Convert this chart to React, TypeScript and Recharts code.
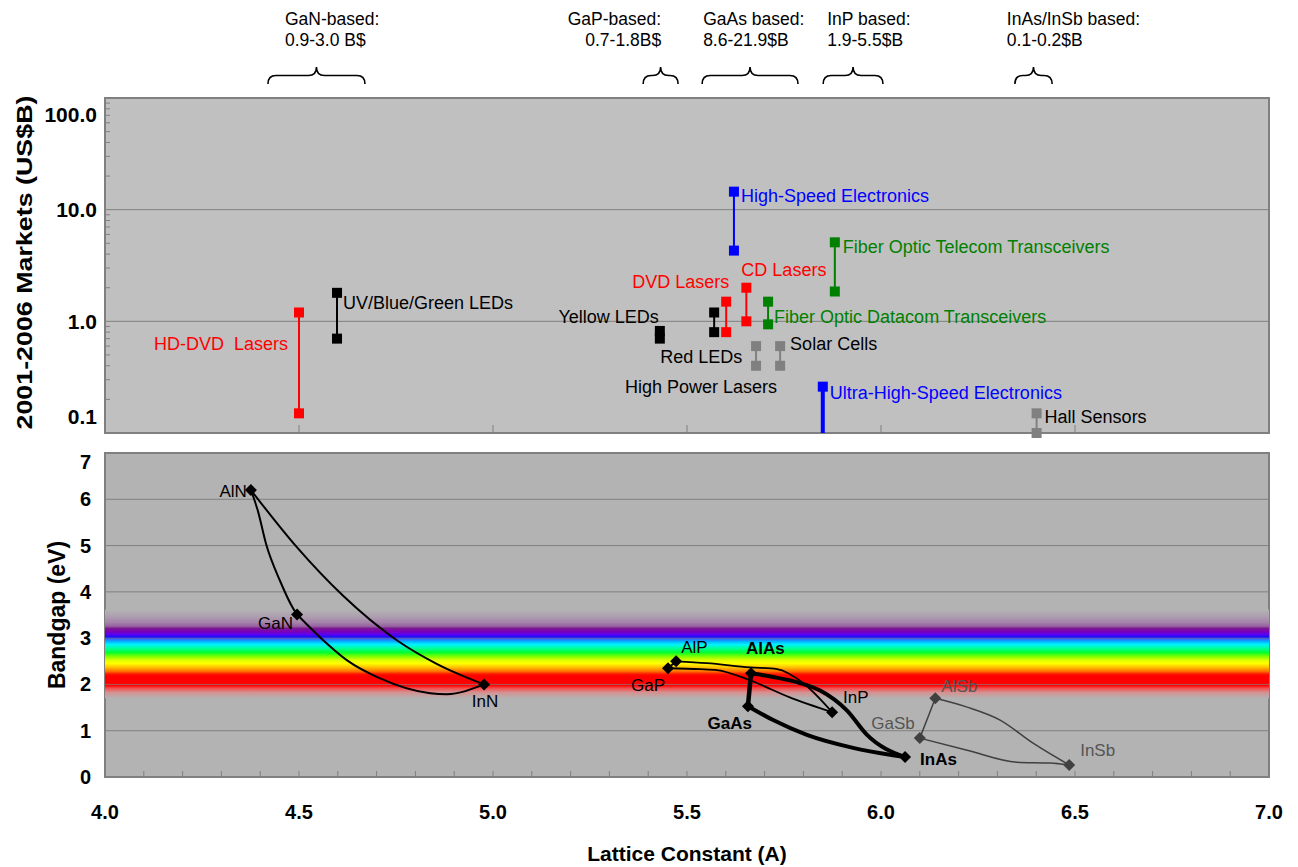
import React from 'react';
import {
  ComposedChart,
  Line,
  Scatter,
  XAxis,
  YAxis,
  ReferenceArea,
  ReferenceLine,
} from 'recharts';

const FONT = '"Liberation Sans", Arial, Helvetica, sans-serif';

// market segments shown with braces above the plot
const segmentTitles = ['GaN-based:', 'GaP-based:', 'GaAs based:', 'InP based:', 'InAs/InSb based:'];
const segmentRanges = ['0.9-3.0 B$', '0.7-1.8B$', '8.6-21.9$B', '1.9-5.5$B', '0.1-0.2$B'];
const segmentFrom = [4.42, 5.387, 5.539, 5.851, 6.345];
const segmentTo = [4.67, 5.477, 5.786, 6.005, 6.441];

// 2001-2006 market ranges (US$B) by lattice constant
const marketNames = [
  'HD-DVD  Lasers',
  'UV/Blue/Green LEDs',
  'Yellow LEDs',
  'Red LEDs',
  'DVD Lasers',
  'High-Speed Electronics',
  'CD Lasers',
  'High Power Lasers',
  'Fiber Optic Datacom Transceivers',
  'Solar Cells',
  'Ultra-High-Speed Electronics',
  'Fiber Optic Telecom Transceivers',
  'Hall Sensors',
];
const marketLattice = [4.5, 4.598, 5.43, 5.57, 5.601, 5.621, 5.653, 5.678, 5.709, 5.74, 5.85, 5.881, 6.401];
const marketLow = [0.15, 0.7, 0.7, 0.8, 0.8, 4.3, 1.0, 0.4, 0.94, 0.4, 0.1, 1.85, 0.1];
const marketHigh = [1.2, 1.8, 0.82, 1.2, 1.5, 14.5, 2.0, 0.6, 1.5, 0.6, 0.26, 5.1, 0.15];

// binary compounds: lattice constant (A) and bandgap (eV)
const compoundNames = ['AlN', 'GaN', 'InN', 'GaP', 'AlP', 'AlAs', 'GaAs', 'InP', 'InAs', 'GaSb', 'AlSb', 'InSb'];
const compoundLattice = [4.376, 4.495, 4.977, 5.451, 5.472, 5.665, 5.657, 5.874, 6.062, 6.1, 6.14, 6.485];
const compoundGap = [6.2, 3.51, 2.0, 2.35, 2.5, 2.24, 1.53, 1.4, 0.43, 0.84, 1.7, 0.26];

// ternary alloy curves
const alloyNames = [
  'AlN-GaN', 'GaN-InN', 'AlN-InN', 'GaP-AlP', 'AlP-InP', 'GaP-InP',
  'AlAs-GaAs', 'GaAs-InAs', 'AlAs-InAs', 'GaSb-AlSb', 'AlSb-InSb', 'GaSb-InSb',
];
const alloyLattice = [
  [4.376, 4.394, 4.415, 4.451, 4.485, 4.495],
  [4.495, 4.554, 4.624, 4.709, 4.838, 4.881, 4.977],
  [4.376, 4.495, 4.613, 4.753, 4.856, 4.977],
  [5.451, 5.472],
  [5.472, 5.551, 5.662, 5.732, 5.799, 5.874],
  [5.451, 5.534, 5.577, 5.662, 5.765, 5.874],
  [5.665, 5.657],
  [5.657, 5.722, 5.809, 5.928, 6.031, 6.062],
  [5.665, 5.722, 5.791, 5.843, 5.912, 5.964, 6.062],
  [6.1, 6.121, 6.14],
  [6.14, 6.222, 6.307, 6.392, 6.485],
  [6.1, 6.222, 6.35, 6.436, 6.485],
];
const alloyGap = [
  [6.2, 5.75, 5.04, 4.24, 3.64, 3.51],
  [3.51, 3.02, 2.52, 2.13, 1.81, 1.79, 2.0],
  [6.2, 4.96, 3.92, 2.95, 2.44, 2.0],
  [2.35, 2.5],
  [2.5, 2.46, 2.37, 2.33, 2.03, 1.4],
  [2.35, 2.33, 2.31, 2.09, 1.72, 1.4],
  [2.24, 1.53],
  [1.53, 1.23, 0.91, 0.63, 0.47, 0.43],
  [2.24, 2.16, 2.03, 1.87, 1.44, 0.91, 0.43],
  [0.84, 1.29, 1.7],
  [1.7, 1.51, 1.23, 0.73, 0.26],
  [0.84, 0.58, 0.32, 0.3, 0.26],
];

// ticks
const latticeMajorTicks = [4.0, 4.5, 5.0, 5.5, 6.0, 6.5, 7.0];
const latticeMinorTicks = [
  4.0, 4.1, 4.2, 4.3, 4.4, 4.5, 4.6, 4.7, 4.8, 4.9, 5.0, 5.1, 5.2, 5.3, 5.4, 5.5,
  5.6, 5.7, 5.8, 5.9, 6.0, 6.1, 6.2, 6.3, 6.4, 6.5, 6.6, 6.7, 6.8, 6.9, 7.0,
];
const marketTicks = [
  0.1, 0.2, 0.3, 0.4, 0.5, 0.6, 0.7, 0.8, 0.9,
  1, 2, 3, 4, 5, 6, 7, 8, 9,
  10, 20, 30, 40, 50, 60, 70, 80, 90, 100,
];
const marketDecades = [0.1, 1, 10, 100];
const marketDecadeLabels = ['0.1', '1.0', '10.0', '100.0'];
const gapTicks = [0, 1, 2, 3, 4, 5, 6, 7];

// ---- styling ----
// braces sit above the plot, between these two (log-scale) heights
const BRACE_BOTTOM = 133.4;
const BRACE_TOP = 189.6;
const segmentLayout = [
  { anchor: 'start', dx: 17 },
  { anchor: 'end', dx: 18 },
  { anchor: 'start', dx: 1 },
  { anchor: 'start', dx: 4 },
  { anchor: 'start', dx: -8 },
];

const RED = '#ff0000';
const BLUE = '#0000ff';
const GREEN = '#008000';
const GRAY = '#808080';

const marketStyle = [
  { color: RED, text: RED, width: 2, low: true, anchor: 'end', dx: -11, dy: 31 },
  { color: '#000', text: '#000', width: 2, low: true, anchor: 'start', dx: 6, dy: 10 },
  { color: '#000', text: '#000', width: 2, low: true, anchor: 'end', dx: -1, dy: -14 },
  { color: '#000', text: '#000', width: 2, low: true, anchor: 'start', dx: -54, dy: 44 },
  { color: RED, text: RED, width: 2, low: true, anchor: 'end', dx: 3, dy: -20 },
  { color: BLUE, text: BLUE, width: 2, low: true, anchor: 'start', dx: 7, dy: 4 },
  { color: RED, text: RED, width: 2, low: true, anchor: 'start', dx: -5, dy: -18 },
  { color: GRAY, text: '#000', width: 2, low: true, anchor: 'end', dx: 21, dy: 41 },
  { color: GREEN, text: GREEN, width: 2, low: true, anchor: 'start', dx: 6, dy: 15 },
  { color: GRAY, text: '#000', width: 2, low: true, anchor: 'start', dx: 10, dy: -2 },
  { color: BLUE, text: BLUE, width: 4, low: false, anchor: 'start', dx: 7, dy: 6 },
  { color: GREEN, text: GREEN, width: 2, low: true, anchor: 'start', dx: 8, dy: 4 },
  { color: GRAY, text: '#000', width: 2, low: true, anchor: 'start', dx: 8, dy: 3 },
];

const compoundStyle = [
  { anchor: 'end', dx: -4, dy: 1, bold: false, color: '#000' },
  { anchor: 'end', dx: -4, dy: 9, bold: false, color: '#000' },
  { anchor: 'middle', dx: 1, dy: 17, bold: false, color: '#000' },
  { anchor: 'end', dx: -3, dy: 17, bold: false, color: '#000' },
  { anchor: 'start', dx: 5, dy: -14, bold: false, color: '#000' },
  { anchor: 'start', dx: -5, dy: -25, bold: true, color: '#000' },
  { anchor: 'end', dx: 4, dy: 17, bold: true, color: '#000' },
  { anchor: 'start', dx: 11, dy: -15, bold: false, color: '#000' },
  { anchor: 'start', dx: 15, dy: 2, bold: true, color: '#000' },
  { anchor: 'end', dx: -5, dy: -15, bold: false, color: '#555555' },
  { anchor: 'start', dx: 6, dy: -12, bold: false, color: '#555555' },
  { anchor: 'start', dx: 11, dy: -15, bold: false, color: '#555555' },
];

const alloyStyle = [
  { stroke: '#000', width: 2, curve: 'monotone' },
  { stroke: '#000', width: 2, curve: 'monotone' },
  { stroke: '#000', width: 2, curve: 'monotone' },
  { stroke: '#000', width: 2, curve: 'linear' },
  { stroke: '#000', width: 1.8, curve: 'monotone' },
  { stroke: '#000', width: 1.8, curve: 'monotone' },
  { stroke: '#000', width: 4.5, curve: 'linear' },
  { stroke: '#000', width: 4, curve: 'monotone' },
  { stroke: '#000', width: 4, curve: 'monotone' },
  { stroke: '#404040', width: 1.5, curve: 'monotone' },
  { stroke: '#404040', width: 1.5, curve: 'monotone' },
  { stroke: '#404040', width: 1.5, curve: 'monotone' },
];

// visible spectrum band: [offset, colour]
const spectrumStops: [number, string][] = [
  [0, '#b3b3b3'],
  [0.079, '#ad9fb0'],
  [0.146, '#a583ab'],
  [0.19, '#96609f'],
  [0.213, '#7a1a90'],
  [0.247, '#7d00b5'],
  [0.281, '#5a00f0'],
  [0.315, '#1010ff'],
  [0.337, '#3070ff'],
  [0.36, '#00b0ff'],
  [0.393, '#00f0ff'],
  [0.438, '#00ff9a'],
  [0.483, '#00ff30'],
  [0.528, '#7dff00'],
  [0.573, '#e0ff00'],
  [0.607, '#ffff00'],
  [0.652, '#ffc000'],
  [0.697, '#ff7000'],
  [0.73, '#ff1000'],
  [0.753, '#ff0000'],
  [0.854, '#ff0000'],
  [0.888, '#f25050'],
  [0.933, '#d69090'],
  [1, '#b3b3b3'],
];

const marketSeries = marketNames.map((_, i) => [
  { x: marketLattice[i], v: marketLow[i] },
  { x: marketLattice[i], v: marketHigh[i] },
]);
const alloySeries = alloyNames.map((_, i) =>
  alloyLattice[i].map((x, j) => ({ x, y: alloyGap[i][j] }))
);
const compoundData = compoundNames.map((name, i) => ({
  name,
  idx: i,
  x: compoundLattice[i],
  y: compoundGap[i],
}));

function Brace(props: any) {
  const { x, y, width, height, idx } = props;
  const mid = x + width / 2;
  const arm = y + height * 0.5;
  const r = Math.min(8, width / 4);
  const d =
    `M${x},${y + height} Q${x},${arm} ${x + r},${arm} L${mid - r},${arm} ` +
    `Q${mid},${arm} ${mid},${y} Q${mid},${arm} ${mid + r},${arm} ` +
    `L${x + width - r},${arm} Q${x + width},${arm} ${x + width},${y + height}`;
  const lay = segmentLayout[idx];
  return (
    <g>
      <path d={d} fill="none" stroke="#000" strokeWidth={1.6} />
      <text x={x + lay.dx} y={y - 48} dy="0.35em" textAnchor={lay.anchor} fontSize={17.5} fontFamily={FONT} fill="#000">
        {segmentTitles[idx]}
      </text>
      <text x={x + lay.dx} y={y - 27} dy="0.35em" textAnchor={lay.anchor} fontSize={17.5} fontFamily={FONT} fill="#000">
        {segmentRanges[idx]}
      </text>
    </g>
  );
}

function MarketTick(props: any) {
  const { x, y, payload } = props;
  const v = payload?.value;
  const k = marketDecades.indexOf(v);
  let shift = 0;
  if (v === 100) shift = 17;
  if (v === 0.1) shift = -16;
  return (
    <g>
      {k > 0 && k < 3 ? null : <line x1={x} x2={x + 5} y1={y} y2={y} stroke={GRAY} />}
      {k >= 0 && (
        <text x={x - 8} y={y + shift} dy="0.35em" textAnchor="end" fontSize={21} fontWeight="bold" fontFamily={FONT} fill="#000">
          {marketDecadeLabels[k]}
        </text>
      )}
    </g>
  );
}

function TopLatticeTick(props: any) {
  const { x, y } = props;
  return <line x1={x} x2={x} y1={y} y2={y - 8} stroke={GRAY} />;
}

function BottomLatticeTick(props: any) {
  const { x, y, payload } = props;
  const v = payload?.value;
  const major = Math.abs(v * 2 - Math.round(v * 2)) < 1e-6;
  return (
    <g>
      <line x1={x} x2={x} y1={y} y2={y - 6} stroke={GRAY} />
      {major && (
        <text x={x} y={y + 35} dy="0.35em" textAnchor="middle" fontSize={20} fontWeight="bold" fontFamily={FONT} fill="#000">
          {v.toFixed(1)}
        </text>
      )}
    </g>
  );
}

function GapTick(props: any) {
  const { x, y, payload } = props;
  const v = payload?.value;
  const shift = v === 7 ? 9 : 0;
  return (
    <text x={x - 14} y={y + shift} dy="0.35em" textAnchor="end" fontSize={20} fontWeight="bold" fontFamily={FONT} fill="#000">
      {String(v)}
    </text>
  );
}

const renderMarketTitle = (p: any) => {
  const vb = p.viewBox || {};
  const x = (vb.x ?? 0) + 24;
  const y = (vb.y ?? 0) + (vb.height ?? 0) / 2 - 3;
  return (
    <text
      x={x}
      y={y}
      transform={`rotate(-90, ${x}, ${y})`}
      textAnchor="middle"
      dy="0.35em"
      fontSize={22}
      fontWeight="bold"
      fontFamily={FONT}
      fill="#000"
      textLength={334}
      lengthAdjust="spacingAndGlyphs"
    >
      2001-2006 Markets (US$B)
    </text>
  );
};

const renderGapTitle = (p: any) => {
  const vb = p.viewBox || {};
  const x = (vb.x ?? 0) + 57;
  const y = (vb.y ?? 0) + (vb.height ?? 0) / 2;
  return (
    <text x={x} y={y} transform={`rotate(-90, ${x}, ${y})`} textAnchor="middle" dy="0.35em" fontSize={23} fontWeight="bold" fontFamily={FONT} fill="#000">
      Bandgap (eV)
    </text>
  );
};

const renderLatticeTitle = (p: any) => {
  const vb = p.viewBox || {};
  const x = (vb.x ?? 0) + (vb.width ?? 0) / 2;
  const y = (vb.y ?? 0) + 77;
  return (
    <text x={x} y={y} textAnchor="middle" dy="0.35em" fontSize={21} fontWeight="bold" fontFamily={FONT} fill="#000">
      Lattice Constant (A)
    </text>
  );
};

const marketDot = (i: number) => (p: any) => {
  const { cx, cy, index } = p;
  const s = marketStyle[i];
  const showMarker = index === 1 || s.low;
  return (
    <g key={`md-${i}-${index}`}>
      {showMarker && <rect x={cx - 5} y={cy - 5} width={10} height={10} fill={s.color} />}
      {index === 1 && (
        <text
          x={cx + s.dx}
          y={cy + s.dy}
          dy="0.35em"
          textAnchor={s.anchor}
          fontSize={18}
          fontFamily={FONT}
          fill={s.text}
          style={{ whiteSpace: 'pre' }}
        >
          {marketNames[i]}
        </text>
      )}
    </g>
  );
};

const renderCompound = (p: any) => {
  const { cx, cy, payload } = p;
  const i = payload.idx;
  const s = compoundStyle[i];
  const fill = i >= 9 ? '#404040' : '#000';
  return (
    <g>
      <path d={`M${cx},${cy - 6}L${cx + 6},${cy}L${cx},${cy + 6}L${cx - 6},${cy}Z`} fill={fill} />
      <text
        x={cx + s.dx}
        y={cy + s.dy}
        dy="0.35em"
        textAnchor={s.anchor}
        fontSize={17}
        fontWeight={s.bold ? 'bold' : 'normal'}
        fontFamily={FONT}
        fill={s.color}
      >
        {payload.name}
      </text>
    </g>
  );
};

export default function App() {
  return (
    <div style={{ position: 'absolute', left: 0, top: 0, width: 1298, height: 867, background: '#fff' }}>
      {/* markets panel, with segment braces above it */}
      <div style={{ position: 'absolute', left: 0, top: 0 }}>
        <ComposedChart width={1298} height={445} margin={{ top: 98, right: 29, bottom: 0, left: 0 }}>
          <XAxis
            type="number"
            dataKey="x"
            domain={[4, 7]}
            ticks={latticeMajorTicks}
            interval={0}
            axisLine={false}
            tickLine={false}
            tickSize={0}
            tickMargin={0}
            height={12}
            tick={<TopLatticeTick />}
          />
          <YAxis
            type="number"
            scale="log"
            domain={[0.1, 100]}
            ticks={marketTicks}
            interval={0}
            width={105}
            axisLine={false}
            tickLine={false}
            tickSize={0}
            tickMargin={0}
            tick={<MarketTick />}
            label={renderMarketTitle}
          />
          <ReferenceArea x1={4} x2={7} y1={0.1} y2={100} fill="#c0c0c0" fillOpacity={1} stroke={GRAY} strokeWidth={2} />
          <ReferenceLine y={1} stroke={GRAY} />
          <ReferenceLine y={10} stroke={GRAY} />
          {segmentTitles.map((t, i) => (
            <ReferenceArea
              key={t}
              x1={segmentFrom[i]}
              x2={segmentTo[i]}
              y1={BRACE_BOTTOM}
              y2={BRACE_TOP}
              ifOverflow="visible"
              shape={(p: any) => <Brace {...p} idx={i} />}
            />
          ))}
          {marketNames.map((name, i) => (
            <Line
              key={name}
              data={marketSeries[i]}
              dataKey="v"
              type="linear"
              stroke={marketStyle[i].color}
              strokeWidth={marketStyle[i].width}
              dot={marketDot(i)}
              activeDot={false}
              legendType="none"
              isAnimationActive={false}
            />
          ))}
        </ComposedChart>
      </div>

      {/* bandgap panel */}
      <div style={{ position: 'absolute', left: 0, top: 440 }}>
        <ComposedChart width={1298} height={427} margin={{ top: 13, right: 29, bottom: 0, left: 0 }}>
          <defs>
            <linearGradient id="spectrum" x1="0" y1="0" x2="0" y2="1">
              {spectrumStops.map(([o, c]) => (
                <stop key={o} offset={o} stopColor={c} />
              ))}
            </linearGradient>
          </defs>
          <XAxis
            type="number"
            dataKey="x"
            domain={[4, 7]}
            ticks={latticeMinorTicks}
            interval={0}
            axisLine={false}
            tickLine={false}
            tickSize={0}
            tickMargin={0}
            height={90}
            tick={<BottomLatticeTick />}
            label={renderLatticeTitle}
          />
          <YAxis
            type="number"
            domain={[0, 7]}
            ticks={gapTicks}
            interval={0}
            width={105}
            axisLine={false}
            tickLine={false}
            tickSize={0}
            tickMargin={0}
            tick={<GapTick />}
            label={renderGapTitle}
          />
          <ReferenceArea x1={4} x2={7} y1={0} y2={7} fill="#b3b3b3" fillOpacity={1} stroke={GRAY} strokeWidth={2} />
          <ReferenceArea x1={4} x2={7} y1={1.7} y2={3.62} fill="url(#spectrum)" fillOpacity={1} />
          {gapTicks
            .filter((t) => t > 0 && t < 7)
            .map((t) => (
              <ReferenceLine key={t} y={t} stroke={GRAY} strokeOpacity={t === 2 || t === 3 ? 0.7 : 1} />
            ))}
          {alloyNames.map((name, i) => (
            <Line
              key={name}
              data={alloySeries[i]}
              dataKey="y"
              type={alloyStyle[i].curve as any}
              stroke={alloyStyle[i].stroke}
              strokeWidth={alloyStyle[i].width}
              strokeLinejoin="round"
              dot={false}
              activeDot={false}
              legendType="none"
              isAnimationActive={false}
            />
          ))}
          <Scatter data={compoundData} dataKey="y" shape={renderCompound} legendType="none" isAnimationActive={false} />
        </ComposedChart>
      </div>
    </div>
  );
}
